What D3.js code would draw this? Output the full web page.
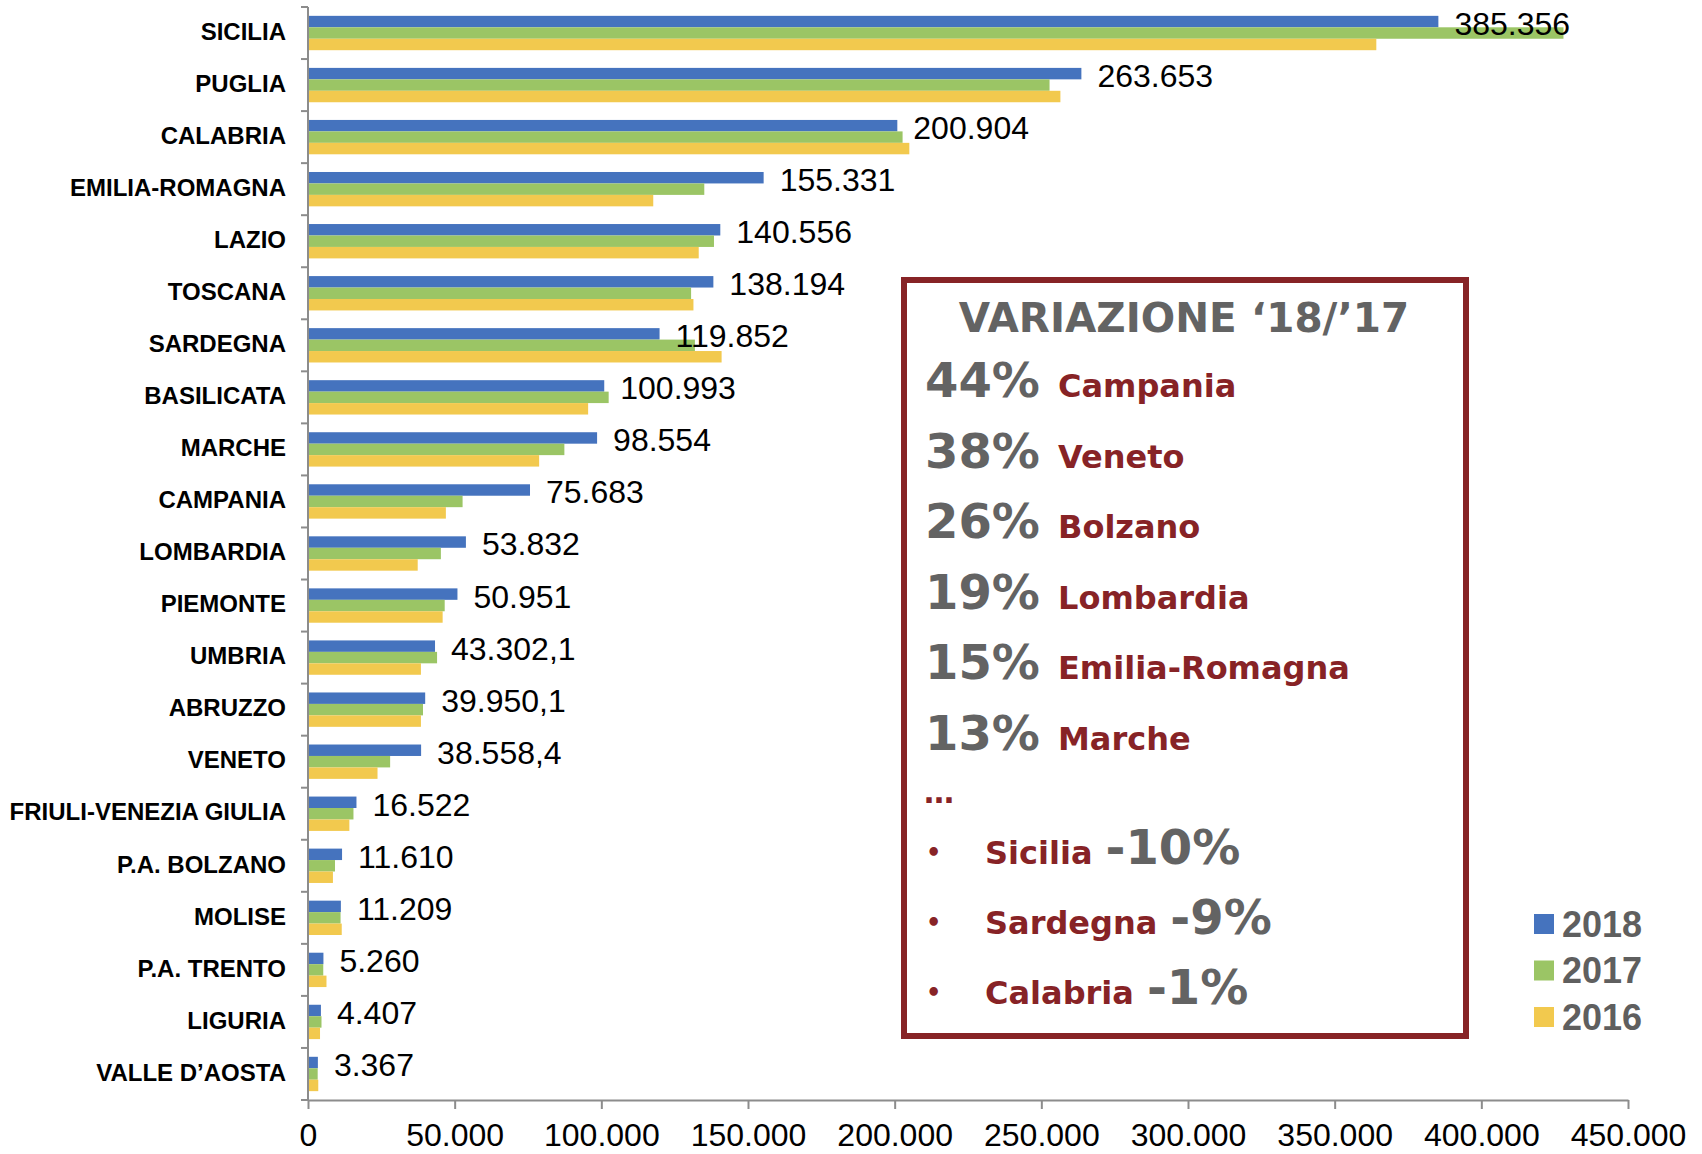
<!DOCTYPE html>
<html>
<head>
<meta charset="utf-8">
<script src="https://cdn.jsdelivr.net/npm/d3@7"></script>
<style>
  body { margin: 0; background: #fff; }
  svg { display: block; }
</style>
</head>
<body>
<svg width="1702" height="1154"></svg>
<script>
// categories (top to bottom)
const regions = ["SICILIA", "PUGLIA", "CALABRIA", "EMILIA-ROMAGNA", "LAZIO", "TOSCANA", "SARDEGNA",
  "BASILICATA", "MARCHE", "CAMPANIA", "LOMBARDIA", "PIEMONTE", "UMBRIA", "ABRUZZO", "VENETO",
  "FRIULI-VENEZIA GIULIA", "P.A. BOLZANO", "MOLISE", "P.A. TRENTO", "LIGURIA", "VALLE D\u2019AOSTA"];

const years = ["2018", "2017", "2016"];

const values2018 = [385356, 263653, 200904, 155331, 140556, 138194, 119852, 100993, 98554, 75683,
  53832, 50951, 43302.1, 39950.1, 38558.4, 16522, 11610, 11209, 5260, 4407, 3367];
const values2017 = [428000, 252800, 202700, 135100, 138400, 130600, 131900, 102500, 87400, 52700,
  45300, 46600, 44000, 39200, 28000, 15500, 9200, 11100, 5200, 4600, 3300];
const values2016 = [364200, 256500, 205000, 117700, 133200, 131400, 141000, 95500, 78800, 47000,
  37400, 45900, 38500, 38500, 23700, 14100, 8500, 11500, 6300, 4100, 3500];

const xTicks = [0, 50000, 100000, 150000, 200000, 250000, 300000, 350000, 400000, 450000];

// box text
const upPct = ["44%", "38%", "26%", "19%", "15%", "13%"];
const upNames = ["Campania", "Veneto", "Bolzano", "Lombardia", "Emilia-Romagna", "Marche"];
const downNames = ["Sicilia", "Sardegna", "Calabria"];
const downPct = ["-10%", "-9%", "-1%"];

const colors = { "2018": "#4573BE", "2017": "#9BC565", "2016": "#F2C94E" };
const series = { "2018": values2018, "2017": values2017, "2016": values2016 };

const it = d3.formatLocale({ decimal: ",", thousands: ".", grouping: [3], currency: ["", "\u20ac"] });
const fmt = it.format(",");

const svg = d3.select("svg");

const x = d3.scaleLinear().domain([0, 450000]).range([308, 1628]);
const y = d3.scaleBand().domain(regions).range([7, 1100]);
const sub = d3.scaleBand().domain(years)
  .range([y.bandwidth() * 0.17, y.bandwidth() * 0.83]);

const axisColor = "#8c8c8c";

// bars
const groups = svg.append("g").selectAll("g")
  .data(regions)
  .join("g")
  .attr("transform", d => `translate(0,${y(d)})`);

groups.selectAll("rect")
  .data((d, i) => years.map(yr => ({ yr, v: series[yr][i] })))
  .join("rect")
  .attr("x", x(0))
  .attr("y", d => sub(d.yr))
  .attr("width", d => x(d.v) - x(0))
  .attr("height", sub.bandwidth())
  .attr("fill", d => colors[d.yr]);

// value labels (2018)
svg.append("g").selectAll("text")
  .data(regions)
  .join("text")
  .attr("x", (d, i) => x(values2018[i]) + 16)
  .attr("y", d => y(d) + 28)
  .attr("font-family", "Liberation Sans, Arial, sans-serif")
  .attr("font-size", 32)
  .attr("fill", "#000")
  .text((d, i) => fmt(values2018[i]));

// y axis labels
const yAxis = svg.append("g")
  .attr("transform", `translate(${x(0)},0)`)
  .call(d3.axisLeft(y).tickSize(0).tickPadding(22));
yAxis.select(".domain").remove();
yAxis.selectAll("text")
  .attr("dy", "0.28em")
  .attr("font-family", "Liberation Sans, Arial, sans-serif")
  .attr("font-weight", "bold")
  .attr("font-size", 24)
  .attr("fill", "#000");

// y axis line + boundary ticks
svg.append("line")
  .attr("x1", x(0)).attr("x2", x(0))
  .attr("y1", y.range()[0]).attr("y2", y.range()[1])
  .attr("stroke", axisColor).attr("stroke-width", 2);
svg.append("g").selectAll("line")
  .data(regions.map(r => y(r)).concat([y.range()[1]]))
  .join("line")
  .attr("x1", x(0) - 7).attr("x2", x(0))
  .attr("y1", d => d).attr("y2", d => d)
  .attr("stroke", axisColor).attr("stroke-width", 2);

// x axis
const xAxis = svg.append("g")
  .attr("transform", `translate(0,${y.range()[1]})`)
  .call(d3.axisBottom(x).tickValues(xTicks).tickFormat(fmt).tickSize(9).tickSizeOuter(0).tickPadding(14));
xAxis.select(".domain").attr("stroke", axisColor).attr("stroke-width", 2);
xAxis.selectAll(".tick line").attr("stroke", axisColor).attr("stroke-width", 2);
xAxis.selectAll("text")
  .attr("font-family", "Liberation Sans, Arial, sans-serif")
  .attr("font-size", 32)
  .attr("fill", "#000");

// variation box
const red = "#872326";
const grey = "#636363";
const boxFont = "DejaVu Sans, Verdana, sans-serif";

svg.append("rect")
  .attr("x", 904).attr("y", 280)
  .attr("width", 562).attr("height", 756)
  .attr("fill", "#fff")
  .attr("stroke", red).attr("stroke-width", 6);

svg.append("text")
  .attr("x", 1184).attr("y", 332)
  .attr("text-anchor", "middle")
  .attr("font-family", boxFont).attr("font-weight", "bold")
  .attr("font-size", 40.5).attr("fill", grey)
  .text("VARIAZIONE \u201818/\u201917");

upPct.forEach((p, i) => {
  const t = svg.append("text")
    .attr("x", 925).attr("y", 397 + i * 70.5)
    .attr("font-family", boxFont).attr("font-weight", "bold");
  t.append("tspan").attr("font-size", 48).attr("fill", grey).text(p);
  t.append("tspan").attr("x", 1058).attr("font-size", 32).attr("fill", red).text(upNames[i]);
});

svg.append("text")
  .attr("x", 924).attr("y", 803)
  .attr("font-family", boxFont).attr("font-weight", "bold")
  .attr("font-size", 30).attr("fill", red)
  .text("\u2026");

downNames.forEach((n, i) => {
  const yy = 864 + i * 70;
  svg.append("text")
    .attr("x", 926).attr("y", yy - 3)
    .attr("font-family", boxFont).attr("font-weight", "bold")
    .attr("font-size", 24).attr("fill", red)
    .text("\u2022");
  const t = svg.append("text")
    .attr("x", 985).attr("y", yy)
    .attr("font-family", boxFont).attr("font-weight", "bold");
  t.append("tspan").attr("font-size", 32).attr("fill", red).text(n);
  t.append("tspan").attr("dx", 13).attr("font-size", 48).attr("fill", grey).text(downPct[i]);
});

// legend
const legend = svg.append("g").selectAll("g")
  .data(years)
  .join("g")
  .attr("transform", (d, i) => `translate(1534,${924 + i * 46.5})`);
legend.append("rect")
  .attr("x", 0).attr("y", -10)
  .attr("width", 20).attr("height", 20)
  .attr("fill", d => colors[d]);
legend.append("text")
  .attr("x", 28).attr("y", 0).attr("dy", "0.36em")
  .attr("font-family", "Liberation Sans, Arial, sans-serif")
  .attr("font-weight", "bold").attr("font-size", 36)
  .attr("fill", "#5f5f5f")
  .text(d => d);
</script>
</body>
</html>
